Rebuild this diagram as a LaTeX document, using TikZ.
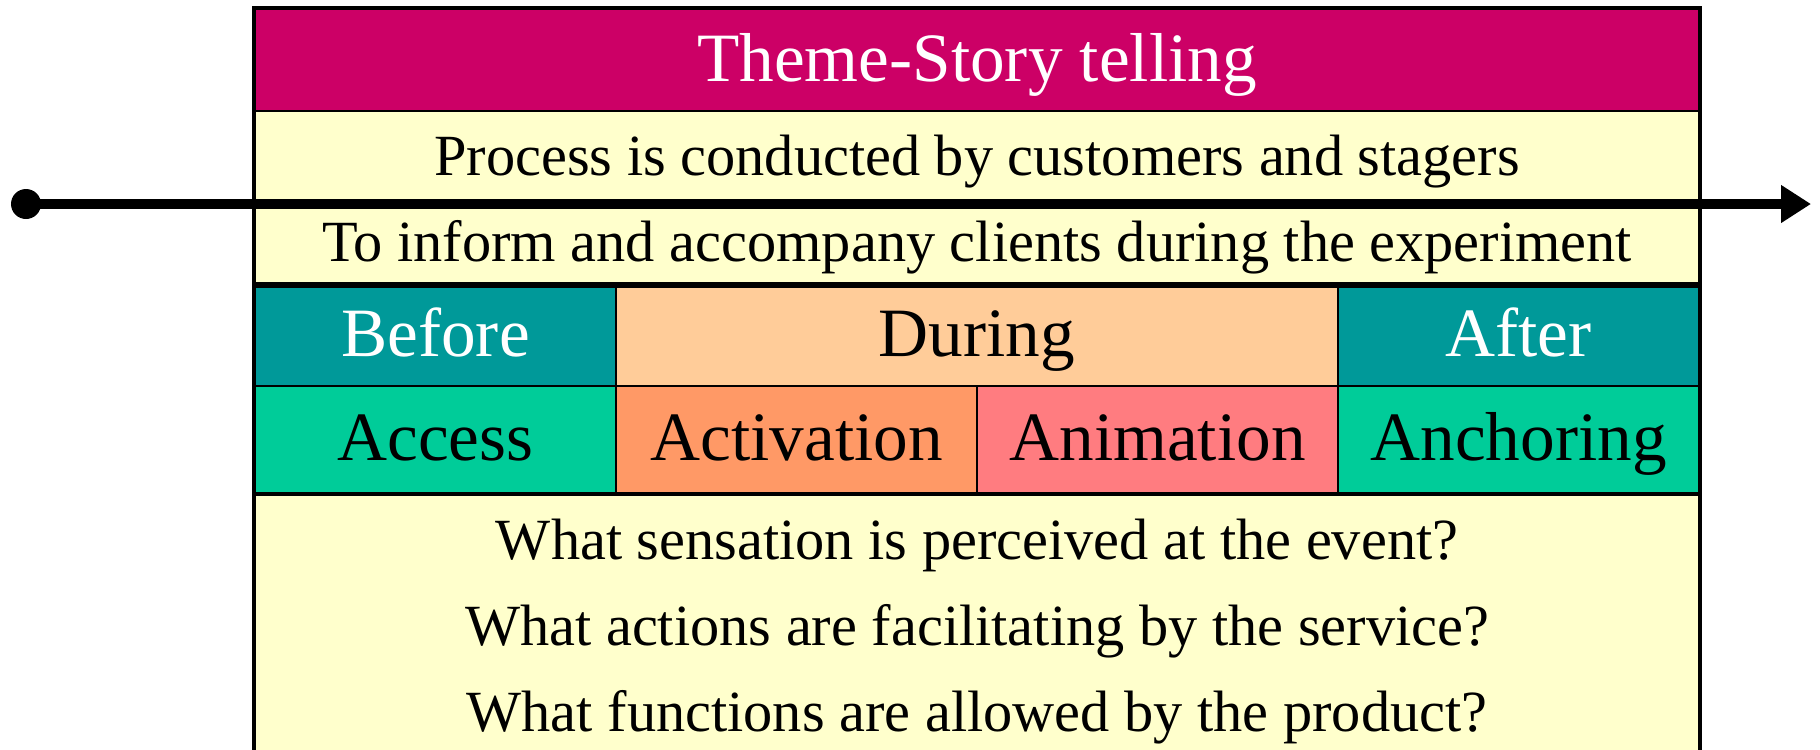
\documentclass[tikz,border=0pt]{standalone}
\usepackage{fontspec}
\setmainfont{Liberation Serif}
\usetikzlibrary{arrows.meta}

\definecolor{themered}{HTML}{CC0066}
\definecolor{paleyellow}{HTML}{FFFFCC}
\definecolor{phaseteal}{HTML}{009999}
\definecolor{phasepeach}{HTML}{FFCC99}
\definecolor{stagegreen}{HTML}{00CC99}
\definecolor{stageorange}{HTML}{FF9966}
\definecolor{stagepink}{HTML}{FF7C80}

\begin{document}
\begin{tikzpicture}[
    cell/.style={draw=black, line width=0.6pt, anchor=north west, inner sep=0pt,
                 minimum width=3.61cm},
    bigtext/.style={font=\fontsize{19.7}{24}\selectfont, text height=1.2em, text depth=0pt},
    smalltext/.style={font=\fontsize{16.6}{24.4}\selectfont, text height=0.98em, text depth=0pt}]

    \useasboundingbox (0,0) rectangle (18.2,-7.5);
    \clip (0,0) rectangle (18.2,-7.5);

    % Title and description rows
    \node[cell, fill=themered, text=white, bigtext, minimum width=14.44cm, minimum height=1.02cm]
        (title) at (2.54,-0.08) {Theme-Story telling};
    \node[cell, fill=paleyellow, smalltext, minimum width=14.44cm, minimum height=0.94cm]
        (process) at (2.54,-1.10) {Process is conducted by customers and stagers};
    \node[cell, fill=paleyellow, smalltext, minimum width=14.44cm, minimum height=0.79cm]
        (inform) at (2.54,-2.04) {To inform and accompany clients during the experiment};

    % Phases
    \node[cell, fill=phaseteal, text=white, bigtext, minimum height=1.02cm]
        (before) at (2.54,-2.83) {Before};
    \node[cell, fill=phasepeach, bigtext, minimum width=7.22cm, minimum height=1.02cm]
        (during) at (6.15,-2.83) {During};
    \node[cell, fill=phaseteal, text=white, bigtext, minimum height=1.02cm]
        (after) at (13.37,-2.83) {After};

    % Stages
    \node[cell, fill=stagegreen, bigtext, minimum height=1.07cm]
        (access) at (2.54,-3.85) {Access};
    \node[cell, fill=stageorange, bigtext, minimum height=1.07cm]
        (activation) at (6.15,-3.85) {Activation};
    \node[cell, fill=stagepink, bigtext, minimum height=1.07cm]
        (animation) at (9.76,-3.85) {Animation};
    \node[cell, fill=stagegreen, bigtext, minimum height=1.07cm]
        (anchoring) at (13.37,-3.85) {Anchoring};

    % Questions
    \node[cell, fill=paleyellow, font=\fontsize{16.6}{24.4}\selectfont, align=center,
          minimum width=14.44cm, minimum height=2.77cm]
        (questions) at (2.54,-4.92)
        {What sensation is perceived at the event?\\
         What actions are facilitating by the service?\\
         What functions are allowed by the product?};

    % Heavier rules and outer frame
    \draw[line width=1.5pt] (inform.south west) -- (inform.south east);
    \draw[line width=1pt] (access.south west) -- (anchoring.south east);
    \draw[line width=1.3pt] (title.north west) rectangle (questions.south east);

    % Time arrow
    \node[circle, fill=black, inner sep=0pt, minimum size=3mm] (start) at (0.26,-2.04) {};
    \coordinate (end) at (18.11,-2.04);
    \draw[line width=3.1pt, -{Triangle[length=3mm, width=3.6mm]}] (start.center) -- (end);

\end{tikzpicture}
\end{document}
